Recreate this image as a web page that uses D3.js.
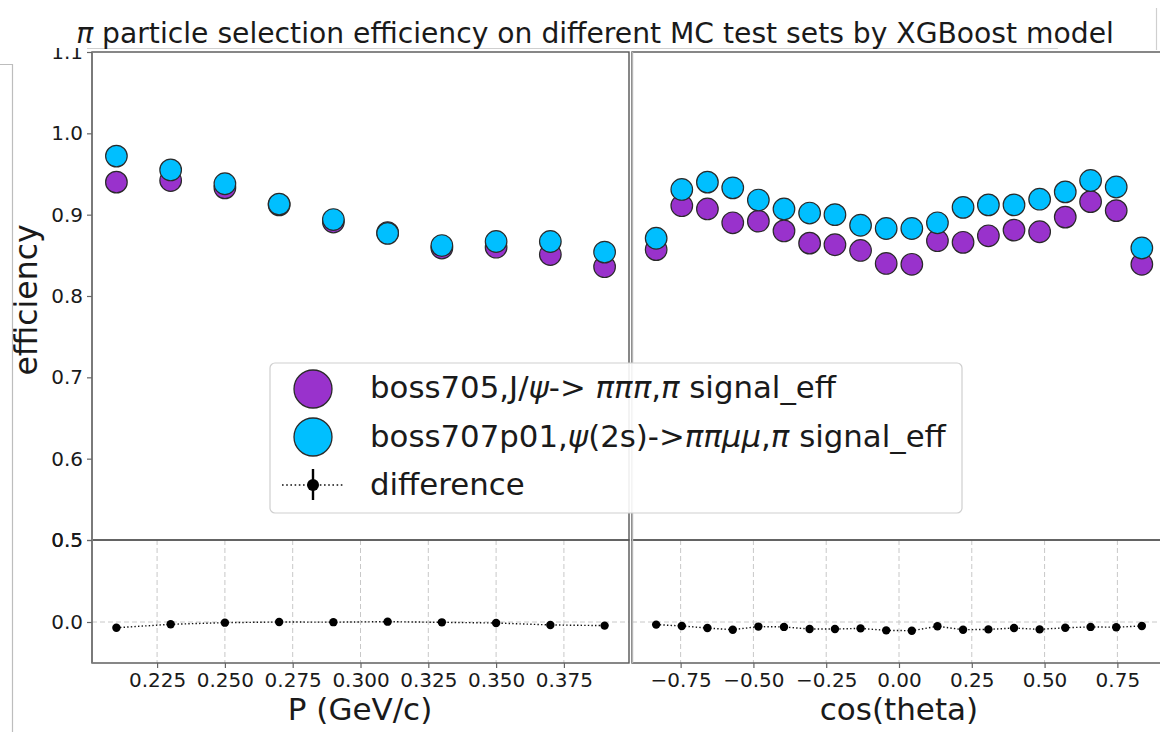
<!DOCTYPE html>
<html>
<head>
<meta charset="utf-8">
<script src="https://cdn.jsdelivr.net/npm/d3@7/dist/d3.min.js"></script>
<style>
  html, body { margin: 0; padding: 0; background: #fff; }
  svg { display: block; font-family: "DejaVu Sans", sans-serif; }
</style>
</head>
<body>
<svg id="chart" width="1160" height="732"></svg>
<script>
// ---- data -------------------------------------------------------------
// momentum bins (GeV/c)
const pBins = [0.21, 0.23, 0.25, 0.27, 0.29, 0.31, 0.33, 0.35, 0.37, 0.39];
const pJpsi = [0.940, 0.942, 0.933, 0.912, 0.891, 0.878, 0.859, 0.860, 0.851, 0.836];
const pPsi2s = [0.972, 0.955, 0.938, 0.913, 0.894, 0.877, 0.862, 0.867, 0.867, 0.854];
const pDiff = [-0.035, -0.014, -0.004, 0.000, -0.001, 0.002, -0.002, -0.006, -0.018, -0.022];

// cos(theta) bins
const cBins = [-0.834, -0.746, -0.658, -0.571, -0.483, -0.395, -0.307, -0.220, -0.132, -0.044,
               0.044, 0.132, 0.220, 0.307, 0.395, 0.483, 0.571, 0.658, 0.746, 0.834];
const cJpsi = [0.857, 0.911, 0.907, 0.890, 0.892, 0.880, 0.865, 0.863, 0.856, 0.840,
               0.839, 0.868, 0.866, 0.874, 0.881, 0.879, 0.897, 0.916, 0.905, 0.839];
const cPsi2s = [0.871, 0.931, 0.940, 0.933, 0.918, 0.907, 0.902, 0.900, 0.887, 0.883,
                0.883, 0.890, 0.909, 0.912, 0.912, 0.919, 0.928, 0.942, 0.934, 0.859];
const cDiff = [-0.016, -0.024, -0.037, -0.047, -0.028, -0.030, -0.043, -0.043, -0.039, -0.051,
               -0.053, -0.026, -0.047, -0.045, -0.037, -0.045, -0.035, -0.030, -0.032, -0.024];

// tick values
const pTicks = [0.225, 0.250, 0.275, 0.300, 0.325, 0.350, 0.375];
const cTicks = [-0.75, -0.50, -0.25, 0.00, 0.25, 0.50, 0.75];
const effTicks = [0.5, 0.6, 0.7, 0.8, 0.9, 1.0, 1.1];
const diffTicks = [0.0, 0.5];

const colJpsi = "#9932CC";
const colPsi2s = "#00BFFF";

// ---- scales -----------------------------------------------------------
const xP = d3.scaleLinear().domain([0.201, 0.399]).range([92, 629]);
const xC = d3.scaleLinear().domain([-0.917, 0.917]).range([632, 1166]);
const yEff = d3.scaleLinear().domain([0.5, 1.1]).range([540, 52]);
const yDiff = d3.scaleLinear().domain([-0.25, 0.5]).range([663, 540]);

const svg = d3.select("#chart");
const ink = "#1a1a1a";
const minus = s => s.replace("-", "\u2212");

// ---- lower panels: grid --------------------------------------------------
function lowerGrid(x, ticks) {
  const g = svg.append("g");
  g.selectAll("line.v").data(ticks).join("line")
    .attr("x1", d => x(d)).attr("x2", d => x(d))
    .attr("y1", yDiff(0.5)).attr("y2", yDiff(-0.25))
    .attr("stroke", "#c8c8c8").attr("stroke-width", 1).attr("stroke-dasharray", "5,3");
  g.append("line")
    .attr("x1", x.range()[0]).attr("x2", x.range()[1])
    .attr("y1", yDiff(0)).attr("y2", yDiff(0))
    .attr("stroke", "#c8c8c8").attr("stroke-width", 1).attr("stroke-dasharray", "5,3");
}
lowerGrid(xP, pTicks);
lowerGrid(xC, cTicks);

// ---- upper panels: efficiency markers --------------------------------------
function effPoints(x, bins, vals, col) {
  svg.append("g").selectAll("circle").data(bins).join("circle")
    .attr("cx", d => x(d)).attr("cy", (d, i) => yEff(vals[i]))
    .attr("r", 10.8)
    .attr("fill", col).attr("stroke", "#2a2a2a").attr("stroke-width", 1.2);
}
effPoints(xP, pBins, pJpsi, colJpsi);
effPoints(xP, pBins, pPsi2s, colPsi2s);
effPoints(xC, cBins, cJpsi, colJpsi);
effPoints(xC, cBins, cPsi2s, colPsi2s);

// ---- lower panels: difference ------------------------------------------------
function diffSeries(x, bins, vals) {
  const line = d3.line().x(d => x(d[0])).y(d => yDiff(d[1]));
  const pts = bins.map((b, i) => [b, vals[i]]);
  svg.append("path").datum(pts).attr("d", line)
    .attr("fill", "none").attr("stroke", "#111").attr("stroke-width", 1.4)
    .attr("stroke-dasharray", "1.4,2.2");
  svg.append("g").selectAll("circle").data(pts).join("circle")
    .attr("cx", d => x(d[0])).attr("cy", d => yDiff(d[1])).attr("r", 4.2)
    .attr("fill", "#000");
}
diffSeries(xP, pBins, pDiff);
diffSeries(xC, cBins, cDiff);

// ---- frames --------------------------------------------------------------
function frame(x0, x1, y0, y1, col) {
  svg.append("rect").attr("x", x0).attr("y", y0)
    .attr("width", x1 - x0).attr("height", y1 - y0)
    .attr("fill", "none").attr("stroke", col).attr("stroke-width", 1.4);
}
frame(92, 629, 52, 540, "#555");
frame(92, 629, 540, 663, "#555");
frame(632, 1166, 52, 540, "#555");
frame(632, 1166, 540, 663, "#555");
// lighter left spine of the right-hand panels
svg.append("line").attr("x1", 632.5).attr("x2", 632.5).attr("y1", 52).attr("y2", 663)
  .attr("stroke", "#b5b5b5").attr("stroke-width", 1.4);
// heavier left spine of the left-hand panels
svg.append("line").attr("x1", 92).attr("x2", 92).attr("y1", 52).attr("y2", 663)
  .attr("stroke", "#7a7a7a").attr("stroke-width", 2);

// ---- axes ----------------------------------------------------------------
function styleAxis(g) {
  g.select(".domain").remove();
  g.selectAll(".tick line").attr("stroke", "#666").attr("stroke-width", 1.2);
  g.selectAll(".tick text").attr("fill", ink).style("font-size", "20px")
    .style("font-family", "DejaVu Sans");
}
svg.append("g").attr("transform", "translate(92,0)")
  .call(d3.axisLeft(yEff).tickValues(effTicks).tickSize(5).tickPadding(4).tickFormat(d3.format(".1f")))
  .call(styleAxis);
svg.append("g").attr("transform", "translate(92,0)")
  .call(d3.axisLeft(yDiff).tickValues(diffTicks).tickSize(5).tickPadding(4).tickFormat(d3.format(".1f")))
  .call(styleAxis);
svg.append("g").attr("transform", "translate(0,663)")
  .call(d3.axisBottom(xP).tickValues(pTicks).tickSize(5).tickPadding(5).tickFormat(d3.format(".3f")))
  .call(styleAxis);
svg.append("g").attr("transform", "translate(0,663)")
  .call(d3.axisBottom(xC).tickValues(cTicks).tickSize(5).tickPadding(5)
    .tickFormat(d => minus(d3.format(".2f")(d))))
  .call(styleAxis);

// axis titles
svg.append("text").attr("x", 360).attr("y", 720).attr("text-anchor", "middle")
  .attr("fill", ink).style("font-size", "31px").text("P (GeV/c)");
svg.append("text").attr("x", 899).attr("y", 720).attr("text-anchor", "middle")
  .attr("fill", ink).style("font-size", "31px").text("cos(theta)");
svg.append("text").attr("transform", "translate(37,300) rotate(-90)").attr("text-anchor", "middle")
  .attr("fill", ink).style("font-size", "31.5px").text("efficiency");

// ---- legend ------------------------------------------------------------------
const leg = svg.append("g");
leg.append("rect").attr("x", 270).attr("y", 363).attr("width", 692).attr("height", 150)
  .attr("rx", 5).attr("fill", "#fff").attr("fill-opacity", 0.9)
  .attr("stroke", "#cfcfcf").attr("stroke-width", 1.2);
leg.append("circle").attr("cx", 313).attr("cy", 389).attr("r", 19)
  .attr("fill", colJpsi).attr("stroke", "#2a2a2a").attr("stroke-width", 1.3);
leg.append("circle").attr("cx", 313).attr("cy", 437).attr("r", 19)
  .attr("fill", colPsi2s).attr("stroke", "#2a2a2a").attr("stroke-width", 1.3);
leg.append("line").attr("x1", 282).attr("x2", 344).attr("y1", 485).attr("y2", 485)
  .attr("stroke", "#111").attr("stroke-width", 1.6).attr("stroke-dasharray", "1.6,2.6");
leg.append("line").attr("x1", 313).attr("x2", 313).attr("y1", 469).attr("y2", 500)
  .attr("stroke", "#000").attr("stroke-width", 2.4);
leg.append("circle").attr("cx", 313).attr("cy", 485).attr("r", 6).attr("fill", "#000");

function richText(x, y, parts, size) {
  const t = leg.append("text").attr("x", x).attr("y", y).attr("fill", ink)
    .style("font-size", size + "px");
  parts.forEach(p => {
    t.append("tspan").style("font-style", p[1] ? "italic" : "normal").text(p[0]);
  });
}
richText(370, 398, [["boss705,J/", 0], ["\u03C8", 1], ["-> ", 0], ["\u03C0\u03C0\u03C0", 1], [",", 0], ["\u03C0", 1], [" signal_eff", 0]], 30.8);
richText(370, 447, [["boss707p01,", 0], ["\u03C8", 1], ["(2s)->", 0], ["\u03C0\u03C0\u03BC\u03BC", 1], [",", 0], ["\u03C0", 1], [" signal_eff", 0]], 30.8);
richText(370, 495, [["difference", 0]], 30.8);

// ---- header strip and title ---------------------------------------------
svg.append("rect").attr("x", 0).attr("y", 0).attr("width", 1160).attr("height", 48).attr("fill", "#fff");
svg.append("line").attr("x1", 87).attr("x2", 1058).attr("y1", 48.5).attr("y2", 48.5)
  .attr("stroke", "#cfcfcf").attr("stroke-width", 1.2);
svg.append("line").attr("x1", 1156.5).attr("x2", 1156.5).attr("y1", 8).attr("y2", 50)
  .attr("stroke", "#cfcfcf").attr("stroke-width", 1.2);
const title = svg.append("text").attr("x", 595).attr("y", 43).attr("text-anchor", "middle")
  .attr("fill", ink).style("font-size", "28.2px");
title.append("tspan").style("font-style", "italic").text("\u03C0");
title.append("tspan").text(" particle selection efficiency on different MC test sets by XGBoost model");

// outer page frame on the left
svg.append("path").attr("d", "M0,64.5 H12.5 V732").attr("fill", "none")
  .attr("stroke", "#bdbdbd").attr("stroke-width", 1.2);
</script>
</body>
</html>
